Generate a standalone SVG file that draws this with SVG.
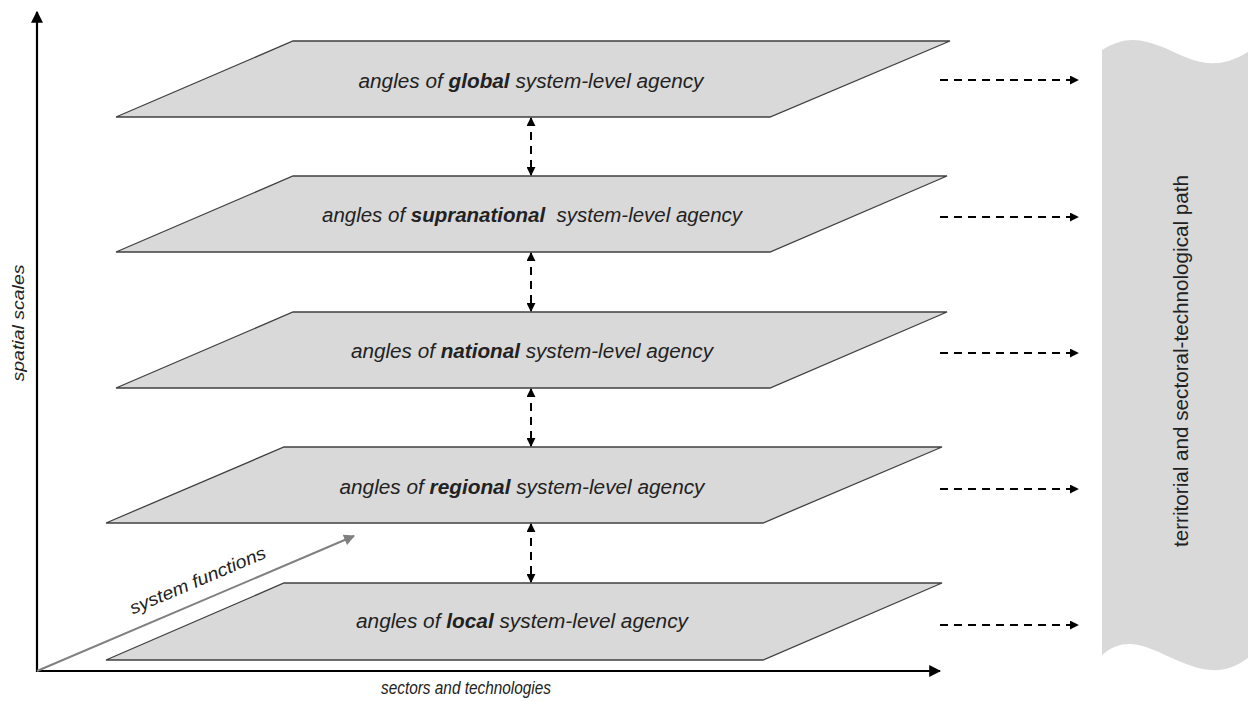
<svg xmlns="http://www.w3.org/2000/svg" width="1248" height="701" viewBox="0 0 1248 701">
<defs>
<marker id="big" viewBox="0 0 10 10" refX="9" refY="5" markerWidth="12" markerHeight="12" orient="auto" markerUnits="userSpaceOnUse">
<path d="M0,0 L10,5 L0,10 z" fill="#000"/>
</marker>
<marker id="gray" viewBox="0 0 10 10" refX="9" refY="5" markerWidth="13" markerHeight="11" orient="auto" markerUnits="userSpaceOnUse">
<path d="M0,0 L10,5 L0,10 z" fill="#808080"/>
</marker>
<marker id="sm" viewBox="0 0 10 10" refX="9" refY="5" markerWidth="9" markerHeight="9" orient="auto-start-reverse" markerUnits="userSpaceOnUse">
<path d="M0,0 L10,5 L0,10 z" fill="#000"/>
</marker>
</defs>
<style>
.plane{fill:#d9d9d9;stroke:#404040;stroke-width:1.3}
.lbl{font-family:"Liberation Sans",Arial,sans-serif;font-style:italic;font-size:20px;fill:#222;text-anchor:middle;white-space:pre}
.ax{font-family:"Liberation Sans",Arial,sans-serif;font-style:italic;font-size:17px;fill:#222;text-anchor:middle}
.dash{stroke:#000;stroke-width:2;stroke-dasharray:8,6;fill:none}
.axis{stroke:#000;stroke-width:2.2;fill:none}
</style>
<g id="banner">
<path d="M1102,50 C1125,36 1140,38 1165,48 C1195,62 1215,72 1248,52 L1248,658 C1218,680 1195,668 1165,655 C1140,643 1122,638 1102,655 Z" fill="#d9d9d9"/>
<text transform="translate(1188,361) rotate(-90)" font-family="'Liberation Sans',Arial,sans-serif" font-size="20" fill="#222" text-anchor="middle" textLength="372" lengthAdjust="spacingAndGlyphs">territorial and sectoral-technological path</text>
</g>
<g id="axes">
<line class="axis" x1="37" y1="672" x2="37" y2="12" marker-end="url(#big)"/>
<line class="axis" x1="36" y1="671" x2="940" y2="671" marker-end="url(#big)"/>
<line x1="37" y1="671" x2="354" y2="536" stroke="#808080" stroke-width="2" marker-end="url(#gray)"/>
<text class="ax" transform="translate(24,323) rotate(-90)" textLength="117" lengthAdjust="spacingAndGlyphs">spatial scales</text>
<text class="ax" x="466" y="694" style="font-size:18px" textLength="170" lengthAdjust="spacingAndGlyphs">sectors and technologies</text>
<text class="ax" transform="translate(200,586) rotate(-23)" style="font-size:18px" textLength="146" lengthAdjust="spacingAndGlyphs">system functions</text>
</g>
<g id="global">
<polygon class="plane" points="293,41 950,41 770,117 116,117"/>
<text class="lbl" x="531" y="88" textLength="345" lengthAdjust="spacingAndGlyphs">angles of <tspan font-weight="bold">global</tspan> system-level agency</text>
</g>
<g id="supranational">
<polygon class="plane" points="293,176 947,176 770,252 116,252"/>
<text class="lbl" x="532" y="222" textLength="420" lengthAdjust="spacingAndGlyphs">angles of <tspan font-weight="bold">supranational</tspan>  system-level agency</text>
</g>
<g id="national">
<polygon class="plane" points="293,312 947,312 770,388 116,388"/>
<text class="lbl" x="532" y="358" textLength="362" lengthAdjust="spacingAndGlyphs">angles of <tspan font-weight="bold">national</tspan> system-level agency</text>
</g>
<g id="regional">
<polygon class="plane" points="284,447 942,447 763,523 106,523"/>
<text class="lbl" x="522" y="494" textLength="365" lengthAdjust="spacingAndGlyphs">angles of <tspan font-weight="bold">regional</tspan> system-level agency</text>
</g>
<g id="local">
<polygon class="plane" points="284,583 942,583 763,660 106,660"/>
<text class="lbl" x="522" y="628" textLength="332" lengthAdjust="spacingAndGlyphs">angles of <tspan font-weight="bold">local</tspan> system-level agency</text>
</g>
<g id="connectors">
<line class="dash" x1="531" y1="118" x2="531" y2="175" marker-start="url(#sm)" marker-end="url(#sm)"/>
<line class="dash" x1="531" y1="253" x2="531" y2="311" marker-start="url(#sm)" marker-end="url(#sm)"/>
<line class="dash" x1="531" y1="389" x2="531" y2="446" marker-start="url(#sm)" marker-end="url(#sm)"/>
<line class="dash" x1="531" y1="524" x2="531" y2="582" marker-start="url(#sm)" marker-end="url(#sm)"/>
<line class="dash" x1="940" y1="80" x2="1078" y2="80" marker-end="url(#sm)"/>
<line class="dash" x1="940" y1="217" x2="1078" y2="217" marker-end="url(#sm)"/>
<line class="dash" x1="940" y1="353" x2="1078" y2="353" marker-end="url(#sm)"/>
<line class="dash" x1="940" y1="489" x2="1078" y2="489" marker-end="url(#sm)"/>
<line class="dash" x1="940" y1="625" x2="1078" y2="625" marker-end="url(#sm)"/>
</g>
</svg>
